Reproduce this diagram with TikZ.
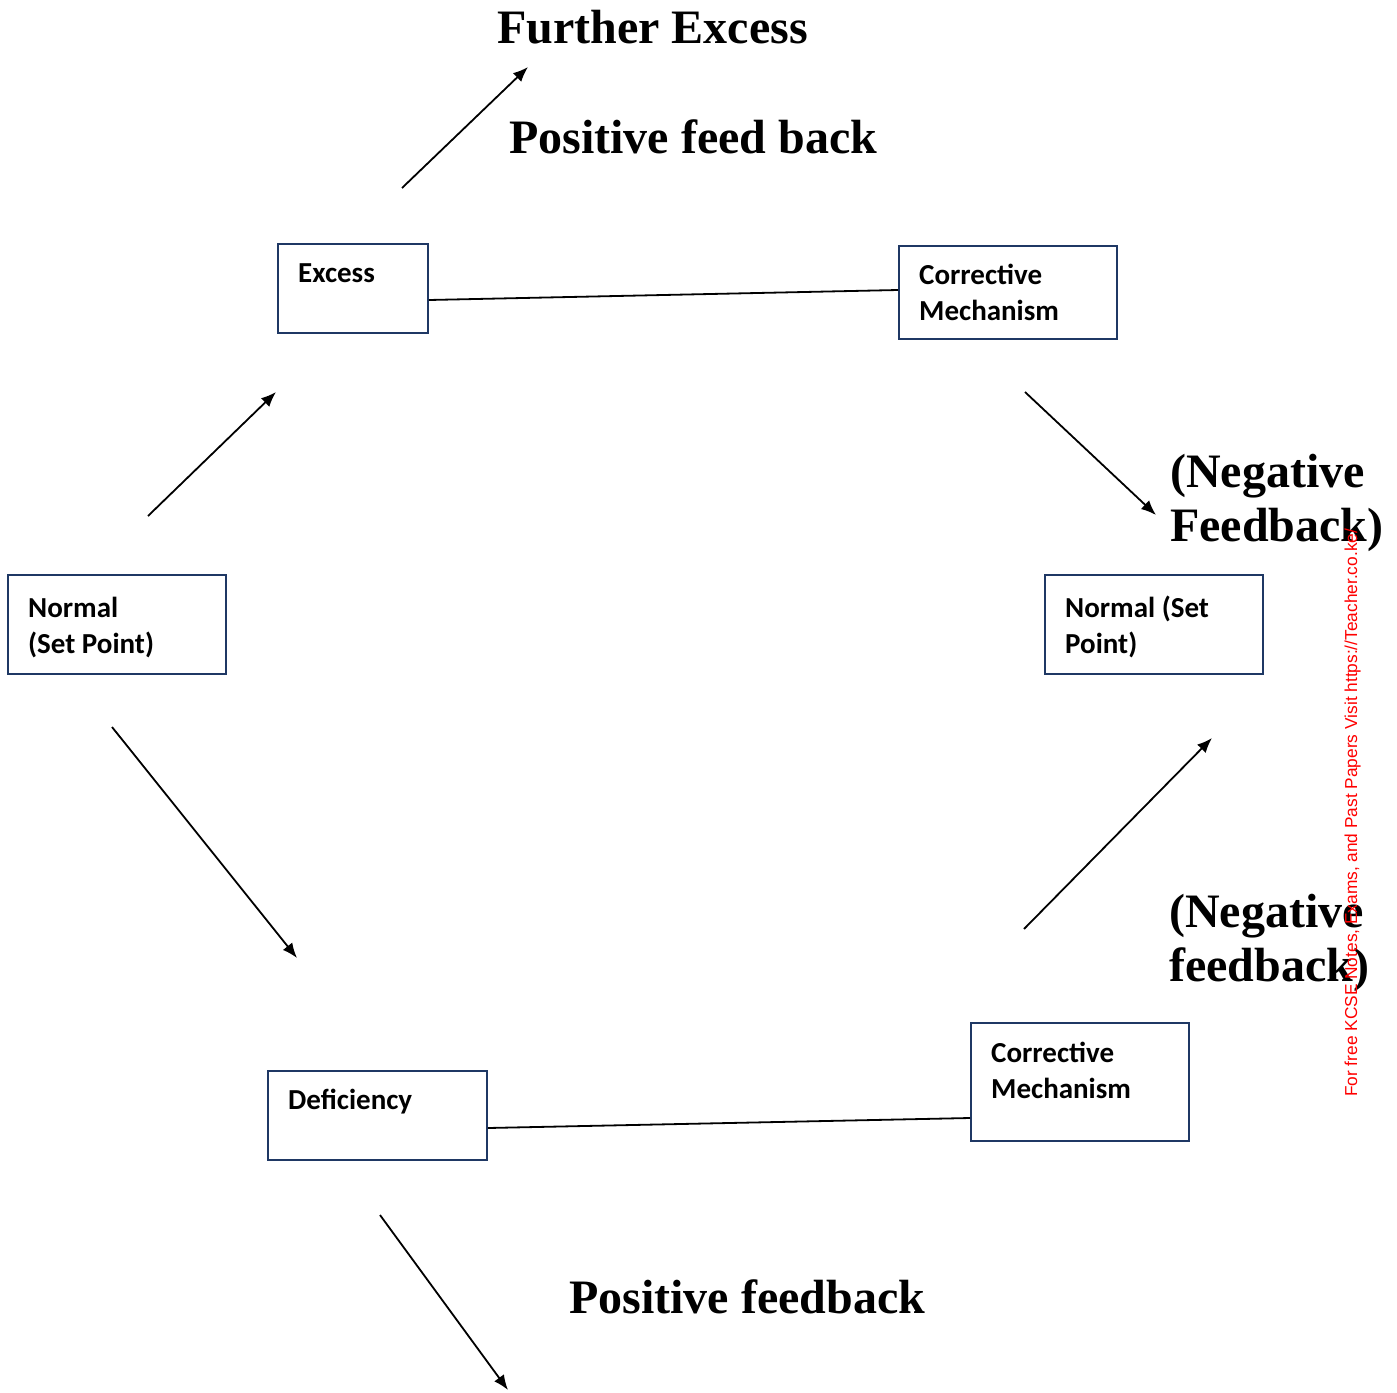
\documentclass[tikz,border=0pt]{standalone}
\usepackage{fontspec}
\setmainfont{Liberation Serif}
\newfontfamily\boxfont{Carlito}
\newfontfamily\notefont{Liberation Sans}
\usetikzlibrary{arrows.meta,calc}
\definecolor{navy}{RGB}{31,56,100}
\definecolor{notered}{RGB}{255,0,0}
\tikzset{
  box/.style={draw=navy, line width=1.8pt, rectangle, inner sep=0pt, anchor=north west},
  boxtext/.style={anchor=base west, inner sep=0pt, align=left, font=\boxfont\bfseries\fontsize{29}{36}\selectfont},
  bigtext/.style={anchor=base west, inner sep=0pt, align=left, font=\bfseries\fontsize{48}{54}\selectfont},
  conn/.style={line width=1.8pt, black},
  arr/.style={line width=1.8pt, black, -{Latex[length=15pt,width=12pt]}},
}
\begin{document}
\begin{tikzpicture}[x=1pt,y=-1pt]
\useasboundingbox (0,0) rectangle (1397,1392);

% boxes
\node[box, minimum width=150pt, minimum height=89pt] (excess) at (277,243) {};
\node[box, minimum width=218pt, minimum height=93pt] (corrtop) at (898,245) {};
\node[box, minimum width=218pt, minimum height=99pt] (normleft) at (7,574) {};
\node[box, minimum width=218pt, minimum height=99pt] (normright) at (1044,574) {};
\node[box, minimum width=218pt, minimum height=118pt] (corrbot) at (970,1022) {};
\node[box, minimum width=219pt, minimum height=89pt] (defic) at (267,1070) {};

% box texts (base anchor = baseline of last line)
\node[boxtext] (t1) at (298,282) {Excess};
\node[boxtext] (t2) at (919,320) {Corrective\\Mechanism};
\node[boxtext] (t3) at (28,653) {Normal\\(Set Point)};
\node[boxtext] (t4) at (1065,653) {Normal (Set\\Point)};
\node[boxtext] (t5) at (991,1098) {Corrective\\Mechanism};
\node[boxtext] (t6) at (288,1109) {Deficiency};

% big labels
\node[bigtext] (l1) at (497,43) {Further Excess};
\node[bigtext] (l2) at (509,153) {Positive feed back};
\node[bigtext] (l3) at (1170,541) {(Negative\\Feedback)};
\node[bigtext] (l4) at (1169,981) {(Negative\\feedback)};
\node[bigtext] (l5) at (569,1313) {Positive feedback};

% connectors between boxes
\draw[conn] ($(excess.north east)+(0,57)$) -- ($(corrtop.north west)+(0,45)$);
\draw[conn] ($(defic.north east)+(0,58)$) -- ($(corrbot.north west)+(0,96)$);

% arrow end points
\coordinate (a1s) at (402,188); \coordinate (a1e) at (528,67);
\coordinate (a2s) at (148,516); \coordinate (a2e) at (276,392);
\coordinate (a3s) at (1025,392); \coordinate (a3e) at (1156,515);
\coordinate (a4s) at (112,727); \coordinate (a4e) at (297,958);
\coordinate (a5s) at (1024,929); \coordinate (a5e) at (1212,738);
\coordinate (a6s) at (380,1215); \coordinate (a6e) at (508,1390);

\draw[arr] (a1s) -- (a1e);
\draw[arr] (a2s) -- (a2e);
\draw[arr] (a3s) -- (a3e);
\draw[arr] (a4s) -- (a4e);
\draw[arr] (a5s) -- (a5e);
\draw[arr] (a6s) -- (a6e);

% watermark
\node[anchor=base west, inner sep=0pt, rotate=90, text=notered, font=\notefont\fontsize{17.3}{20}\selectfont] (wm) at (1357,1097) {For free KCSE Notes, Exams, and Past Papers Visit https://Teacher.co.ke/};
\end{tikzpicture}
\end{document}
